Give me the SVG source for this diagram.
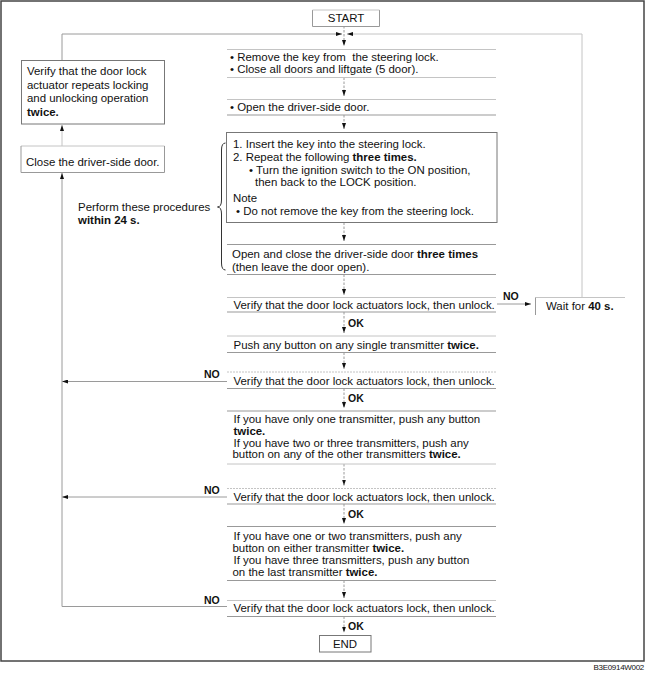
<svg xmlns="http://www.w3.org/2000/svg" width="645" height="681" viewBox="0 0 645 681">
<style>
text{font-family:"Liberation Sans",Arial,sans-serif;font-size:11.45px;fill:#111}
.b{font-weight:bold}
.lab{font-weight:bold;font-size:10.5px}
.dk{stroke:#6e6e6e;stroke-width:1;fill:none}
.md{stroke:#999;stroke-width:1;fill:none}
.lt{stroke:#c4c4c4;stroke-width:1;fill:none}
.dl{stroke:#c4c4c4;stroke-width:1;fill:none;stroke-dasharray:2 1}
.cn{stroke:#9a9a9a;stroke-width:1;fill:none}
.dc{stroke:#9a9a9a;stroke-width:1;fill:none;stroke-dasharray:2.5 1.5}
.bx{fill:#fff;stroke:#777;stroke-width:1}
</style>
<defs>
<marker id="ah" viewBox="0 0 6 4" refX="6" refY="2" markerWidth="6" markerHeight="4" markerUnits="userSpaceOnUse" orient="auto">
<path d="M0,0 L6,2 L0,4 z" fill="#111"/>
</marker>
</defs>
<rect x="1" y="1" width="643" height="660" fill="#fff" stroke="#444" stroke-width="1.5"/>

<g id="connectors">
<path class="dc" d="M344 26 V46" marker-end="url(#ah)"/>
<path class="cn" d="M62 60.5 V34 H342" marker-end="url(#ah)"/>
<path class="lt" d="M582 297.5 V34 H347" marker-end="url(#ah)"/>
<path class="dc" d="M344 77.5 V96" marker-end="url(#ah)"/>
<path class="dc" d="M344 115 V129" marker-end="url(#ah)"/>
<path class="dc" d="M344 222.5 V241" marker-end="url(#ah)"/>
<path class="dc" d="M344 274.5 V295" marker-end="url(#ah)"/>
<path class="cn" d="M497 304 H531" marker-end="url(#ah)"/>
<path class="dc" d="M344 312 V333" marker-end="url(#ah)"/>
<path class="dc" d="M344 352.5 V369" marker-end="url(#ah)"/>
<path class="cn" d="M227 381.5 H62" marker-end="url(#ah)"/>
<path class="dc" d="M344 388.5 V408" marker-end="url(#ah)"/>
<path class="dc" d="M344 464 V485.5" marker-end="url(#ah)"/>
<path class="cn" d="M227 497 H62" marker-end="url(#ah)"/>
<path class="dc" d="M344 504 V524" marker-end="url(#ah)"/>
<path class="dc" d="M344 580.5 V598" marker-end="url(#ah)"/>
<path class="cn" d="M227 606.5 H62 V173" marker-end="url(#ah)"/>
<path class="lt" d="M62 146 V125" marker-end="url(#ah)"/>
<path class="dc" d="M344 616.5 V632.5" marker-end="url(#ah)"/>
<text class="lab" x="503" y="300">NO</text>
<text class="lab" x="348" y="327">OK</text>
<text class="lab" x="204" y="378">NO</text>
<text class="lab" x="348" y="402">OK</text>
<text class="lab" x="204" y="494">NO</text>
<text class="lab" x="348" y="518">OK</text>
<text class="lab" x="204" y="604">NO</text>
<text class="lab" x="348" y="630">OK</text>
</g>

<g id="start">
<path class="md" d="M312.5 10 V26.5 H379.5 V10"/>
<path class="lt" d="M312.5 10 H379.5"/>
<text x="346" y="22" text-anchor="middle">START</text>
</g>

<g id="step1">
<path class="lt" d="M227 49.5 H496 M227 77.5 H496"/>
<text x="230" y="61" xml:space="preserve">• Remove the key from  the steering lock.</text>
<text x="230" y="73">• Close all doors and liftgate (5 door).</text>
</g>

<g id="step2">
<path class="lt" d="M227 99.5 H496"/>
<path class="md" d="M227 115 H496"/>
<text x="230" y="111">• Open the driver-side door.</text>
</g>

<g id="step3">
<rect x="226.5" y="132.5" width="270.5" height="90" fill="#fff" stroke="#777"/>
<text x="233" y="148">1. Insert the key into the steering lock.</text>
<text x="233" y="161">2. Repeat the following <tspan class="b">three times.</tspan></text>
<text x="249" y="173.5">• Turn the ignition switch to the ON position,</text>
<text x="255" y="186">then back to the LOCK position.</text>
<text x="233" y="202">Note</text>
<text x="236" y="215">• Do not remove the key from the steering lock.</text>
</g>

<g id="note24">
<path d="M225.5 143 Q221.5 143 221.5 150 V200 Q221.5 207 217.5 207 Q221.5 207 221.5 214 V263 Q221.5 270 225.5 270" fill="none" stroke="#333" stroke-width="1"/>
<text x="78" y="210.5">Perform these procedures</text>
<text x="78" y="223.5" class="b">within 24 s.</text>
</g>

<g id="step4">
<path class="md" d="M227 244.5 H496 M227 274.5 H496"/>
<text x="232" y="257.5">Open and close the driver-side door <tspan class="b">three times</tspan></text>
<text x="232" y="270.5">(then leave the door open).</text>
</g>

<g id="verify1">
<path class="lt" d="M227 297.5 H496"/>
<path class="md" d="M227 312 H496"/>
<text x="233.5" y="309">Verify that the door lock actuators lock, then unlock.</text>
</g>

<g id="wait">
<path class="lt" d="M535.5 297.5 H625"/>
<path class="md" d="M535.5 297.5 V315"/>
<text x="546" y="310">Wait for <tspan class="b">40 s.</tspan></text>
</g>

<g id="push">
<path class="lt" d="M227 336 H496"/>
<path class="md" d="M227 352.5 H496"/>
<text x="233.5" y="348.5">Push any button on any single transmitter <tspan class="b">twice.</tspan></text>
</g>

<g id="verify2">
<path class="dl" d="M227 372 H496"/>
<path class="md" d="M227 388.5 H496"/>
<text x="233.5" y="385">Verify that the door lock actuators lock, then unlock.</text>
</g>

<g id="second">
<path class="md" d="M227 411 H496"/>
<path class="lt" d="M227 464 H496"/>
<text x="233.5" y="423">If you have only one transmitter, push any button</text>
<text x="233.5" y="434.5" class="b">twice.</text>
<text x="233.5" y="446.5">If you have two or three transmitters, push any</text>
<text x="232.5" y="458">button on any of the other transmitters <tspan class="b">twice.</tspan></text>
</g>

<g id="verify3">
<path class="dl" d="M227 488.5 H496"/>
<path class="md" d="M227 504 H496"/>
<text x="233.5" y="501">Verify that the door lock actuators lock, then unlock.</text>
</g>

<g id="third">
<path class="md" d="M227 526.5 H496 M227 580.5 H496"/>
<text x="233.5" y="540">If you have one or two transmitters, push any</text>
<text x="232.5" y="552">button on either transmitter <tspan class="b">twice.</tspan></text>
<text x="233.5" y="564">If you have three transmitters, push any button</text>
<text x="232.5" y="576">on the last transmitter <tspan class="b">twice.</tspan></text>
</g>

<g id="verify4">
<path class="lt" d="M227 600.5 H496"/>
<path class="md" d="M227 616.5 H496"/>
<text x="233.5" y="611.5">Verify that the door lock actuators lock, then unlock.</text>
</g>

<g id="end">
<rect x="319.5" y="635.5" width="51.5" height="16.5" fill="#fff" stroke="#777"/>
<text x="345" y="648" text-anchor="middle">END</text>
</g>

<g id="verifyRepeat">
<rect x="21.5" y="60.5" width="143" height="63.5" fill="#fff" stroke="#777"/>
<text x="27" y="75">Verify that the door lock</text>
<text x="27" y="88.5">actuator repeats locking</text>
<text x="27" y="102">and unlocking operation</text>
<text x="27" y="115.5" class="b">twice.</text>
</g>

<g id="closeDoor">
<path class="lt" d="M21 146 H164.5"/>
<path class="md" d="M21 146 V172.5 H164.5 V146"/>
<text x="26" y="165.5">Close the driver-side door.</text>
</g>

<text x="644" y="670" text-anchor="end" style="font-size:8px;letter-spacing:-0.3px">B3E0914W002</text>
</svg>
